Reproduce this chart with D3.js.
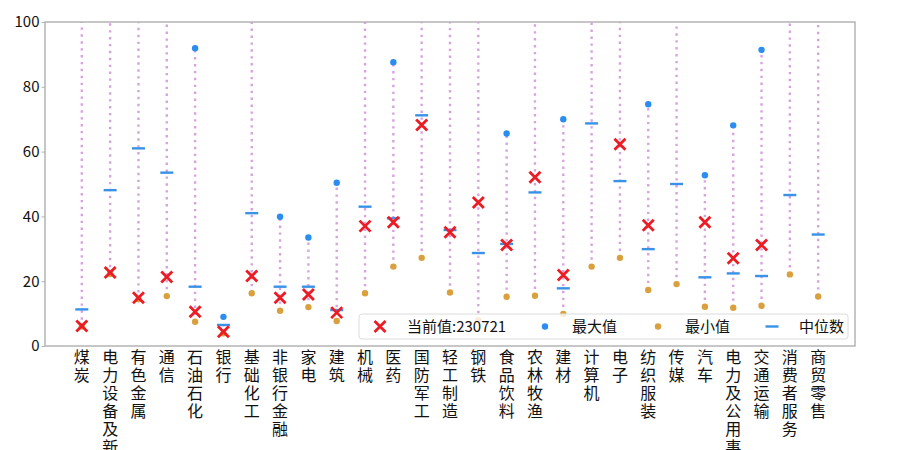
<!DOCTYPE html>
<html>
<head>
<meta charset="utf-8">
<script src="https://cdn.jsdelivr.net/npm/d3@7"></script>
<style>
  body { margin: 0; background: #fff; }
  svg { display: block; font-family: "Noto Sans CJK SC", "DejaVu Sans", sans-serif; }
</style>
</head>
<body>
<div id="viz"></div>
<script>
const width = 900;
const height = 450;

// data (null = not shown / above 100)
const categories = ["煤炭", "电力设备及新能源", "有色金属", "通信", "石油石化", "银行", "基础化工", "非银行金融",
  "家电", "建筑", "机械", "医药", "国防军工", "轻工制造", "钢铁", "食品饮料", "农林牧渔", "建材",
  "计算机", "电子", "纺织服装", "传媒", "汽车", "电力及公用事业", "交通运输", "消费者服务", "商贸零售"];
const currentVals = [6.2, 22.7, 14.9, 21.3, 10.6, 4.4, 21.6, 14.9, 15.9, 10.3, 37.0, 38.2, 68.2, 35.1,
  44.3, 31.2, 52.1, 21.9, null, 62.3, 37.3, null, 38.2, 27.1, 31.2, null, null];
const maxVals = [null, null, null, null, 91.9, 9.0, null, 39.9, 33.5, 50.4, null, 87.6, null, null,
  null, 65.6, null, 70.0, null, null, 74.6, null, 52.7, 68.1, 91.4, null, null];
const minVals = [6.0, 22.2, 14.4, 15.4, 7.5, 3.9, 16.3, 10.9, 12.0, 7.7, 16.3, 24.5, 27.2, 16.5,
  8.0, 15.2, 15.5, 9.9, 24.5, 27.2, 17.3, 19.1, 12.1, 11.8, 12.4, 22.1, 15.3];
const medianVals = [11.3, 48.1, 61.0, 53.5, 18.3, 6.5, 41.0, 18.3, 18.3, 11.1, 43.0, 39.4, 71.2, 35.8,
  28.7, 31.5, 47.4, 17.8, 68.7, 50.9, 29.9, 50.0, 21.2, 22.4, 21.6, 46.6, 34.4];
const yTicks = [0, 20, 40, 60, 80, 100];
const legendLabels = ["当前值:230721", "最大值", "最小值", "中位数"];

const colors = {
  line: "#d7a3de",
  cur: "#ec1c24",
  max: "#2b8df0",
  min: "#daa03e",
  med: "#3a92e6",
  frame: "#b4b4b4"
};

const margin = { left: 45, right: 45, top: 22, bottom: 104 };

const svg = d3.select("#viz")
  .append("svg")
  .attr("width", width)
  .attr("height", height);

const n = categories.length;
const x = d3.scaleLinear()
  .domain([-0.05 * (n - 1), (n - 1) * 1.05])
  .range([margin.left, width - margin.right]);

const y = d3.scaleLinear()
  .domain([0, 100])
  .range([height - margin.bottom, margin.top]);

svg.append("defs").append("clipPath")
  .attr("id", "plot-clip")
  .append("rect")
  .attr("x", x.range()[0])
  .attr("y", y.range()[1])
  .attr("width", x.range()[1] - x.range()[0])
  .attr("height", y.range()[0] - y.range()[1]);

const plot = svg.append("g").attr("clip-path", "url(#plot-clip)");

const rows = categories.map((c, i) => ({
  cat: c, i,
  cur: currentVals[i], max: maxVals[i], min: minVals[i], med: medianVals[i]
}));

// dotted range lines from min to max (or to the top when max is off the chart)
plot.selectAll(".range")
  .data(rows)
  .join("line")
  .attr("x1", d => x(d.i))
  .attr("x2", d => x(d.i))
  .attr("y1", d => y(d.min))
  .attr("y2", d => y(d.max == null ? 100 : d.max))
  .attr("stroke", colors.line)
  .attr("stroke-width", 2.4)
  .attr("stroke-dasharray", "2.4,4.5");

plot.selectAll(".maxdot")
  .data(rows.filter(d => d.max != null))
  .join("circle")
  .attr("cx", d => x(d.i))
  .attr("cy", d => y(d.max))
  .attr("r", 3.2)
  .attr("fill", colors.max);

plot.selectAll(".mindot")
  .data(rows)
  .join("circle")
  .attr("cx", d => x(d.i))
  .attr("cy", d => y(d.min))
  .attr("r", 3.2)
  .attr("fill", colors.min);

plot.selectAll(".med")
  .data(rows)
  .join("line")
  .attr("x1", d => x(d.i) - 6.5)
  .attr("x2", d => x(d.i) + 6.5)
  .attr("y1", d => y(d.med))
  .attr("y2", d => y(d.med))
  .attr("stroke", colors.med)
  .attr("stroke-width", 2.4);

function drawX(g, cx, cy, s) {
  g.append("path")
    .attr("d", `M${cx - s},${cy - s}L${cx + s},${cy + s}M${cx - s},${cy + s}L${cx + s},${cy - s}`)
    .attr("stroke", colors.cur)
    .attr("stroke-width", 2.8)
    .attr("fill", "none");
}

rows.filter(d => d.cur != null).forEach(d => drawX(plot, x(d.i), y(d.cur), 5.5));

// frame
svg.append("rect")
  .attr("x", x.range()[0])
  .attr("y", y.range()[1])
  .attr("width", x.range()[1] - x.range()[0])
  .attr("height", y.range()[0] - y.range()[1])
  .attr("fill", "none")
  .attr("stroke", colors.frame)
  .attr("stroke-width", 1.5);

// y axis
const yAxis = svg.append("g")
  .attr("transform", `translate(${x.range()[0]},0)`)
  .call(d3.axisLeft(y).tickValues(yTicks).tickSize(3.5).tickPadding(2));
yAxis.select(".domain").remove();
yAxis.selectAll("line").attr("stroke", colors.frame);
yAxis.selectAll("text")
  .attr("fill", "#111")
  .style("font-size", "15px")
  .style("font-family", "'Noto Sans CJK SC', sans-serif");

// x labels: vertical, one character per line
const xLab = svg.append("g");
rows.forEach(d => {
  const t = xLab.append("text")
    .attr("x", x(d.i))
    .attr("y", y(0) + 17)
    .attr("text-anchor", "middle")
    .attr("fill", "#111")
    .style("font-size", "16px");
  Array.from(d.cat).forEach((ch, k) => {
    t.append("tspan")
      .attr("x", x(d.i))
      .attr("dy", k === 0 ? 0 : 18)
      .text(ch);
  });
});

// legend
const legend = svg.append("g");
legend.append("rect")
  .attr("x", 359)
  .attr("y", 314)
  .attr("width", 489)
  .attr("height", 25)
  .attr("rx", 3)
  .attr("fill", "#fff")
  .attr("fill-opacity", 0.8)
  .attr("stroke", "#dcdcdc")
  .attr("stroke-width", 1);

const legendX = [380, 545, 658, 772];
const ly = 326.5;
drawX(legend, legendX[0], ly, 5.5);
legend.append("circle").attr("cx", legendX[1]).attr("cy", ly).attr("r", 3.2).attr("fill", colors.max);
legend.append("circle").attr("cx", legendX[2]).attr("cy", ly).attr("r", 3.2).attr("fill", colors.min);
legend.append("line")
  .attr("x1", legendX[3] - 6.5).attr("x2", legendX[3] + 6.5)
  .attr("y1", ly).attr("y2", ly)
  .attr("stroke", colors.med).attr("stroke-width", 2.4);

legend.selectAll(".ltext")
  .data(legendLabels)
  .join("text")
  .attr("x", (d, i) => legendX[i] + 27)
  .attr("y", ly + 5.5)
  .attr("fill", "#111")
  .style("font-size", "15px")
  .text(d => d);
</script>
</body>
</html>
